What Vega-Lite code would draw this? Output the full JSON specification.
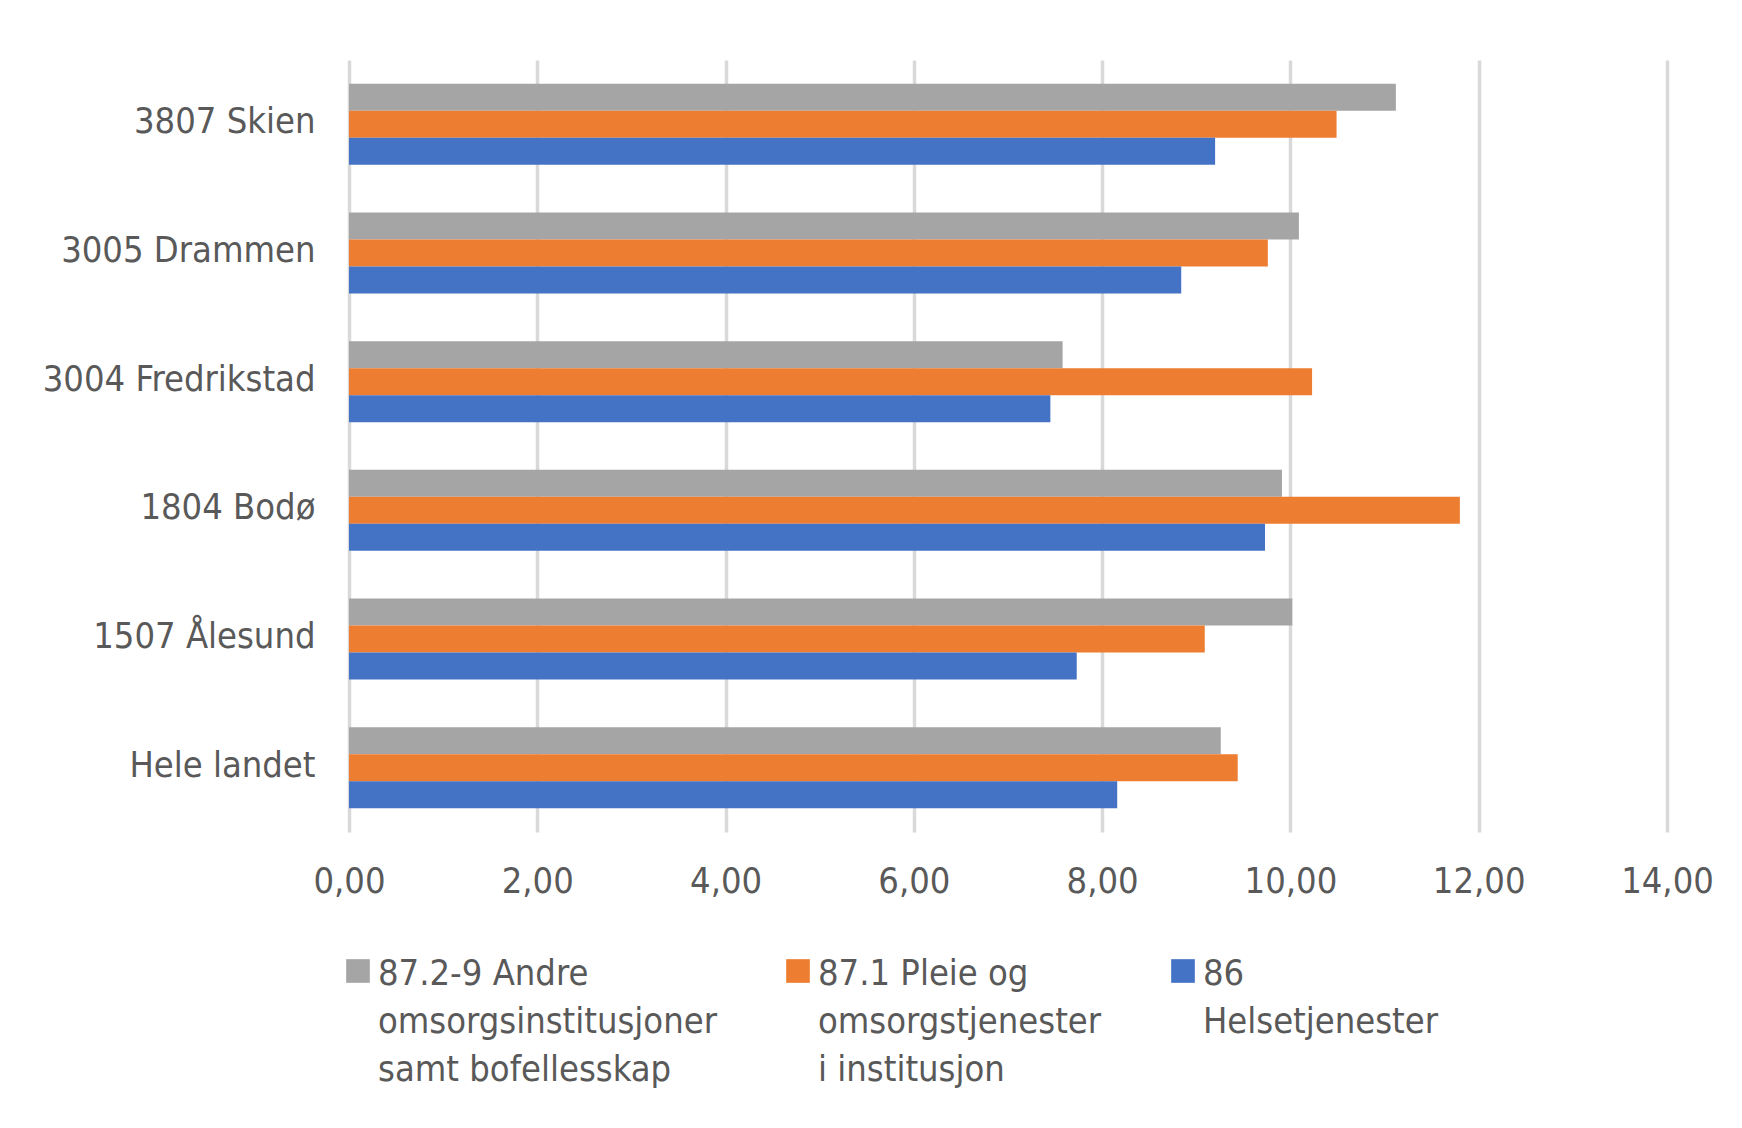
{
  "$schema": "https://vega.github.io/schema/vega-lite/v6.json",
  "autosize": {"type": "none"},
  "width": 1318,
  "height": 772,
  "padding": {"left": 349, "top": 60, "right": 75, "bottom": 296},
  "background": "white",
  "config": {
    "view": {"stroke": null},
    "font": "DejaVu Sans Condensed",
    "axis": {"labelFont": "DejaVu Sans Condensed", "labelColor": "#595959", "labelFontSize": 36}
  },
  "data": {
    "values": [
      {"kommune": "3807 Skien", "serie": "87.2-9 Andre omsorgsinstitusjoner samt bofellesskap", "verdi": 11.12},
      {"kommune": "3807 Skien", "serie": "87.1 Pleie og omsorgstjenester i institusjon", "verdi": 10.49},
      {"kommune": "3807 Skien", "serie": "86 Helsetjenester", "verdi": 9.20},
      {"kommune": "3005 Drammen", "serie": "87.2-9 Andre omsorgsinstitusjoner samt bofellesskap", "verdi": 10.09},
      {"kommune": "3005 Drammen", "serie": "87.1 Pleie og omsorgstjenester i institusjon", "verdi": 9.76},
      {"kommune": "3005 Drammen", "serie": "86 Helsetjenester", "verdi": 8.84},
      {"kommune": "3004 Fredrikstad", "serie": "87.2-9 Andre omsorgsinstitusjoner samt bofellesskap", "verdi": 7.58},
      {"kommune": "3004 Fredrikstad", "serie": "87.1 Pleie og omsorgstjenester i institusjon", "verdi": 10.23},
      {"kommune": "3004 Fredrikstad", "serie": "86 Helsetjenester", "verdi": 7.45},
      {"kommune": "1804 Bodø", "serie": "87.2-9 Andre omsorgsinstitusjoner samt bofellesskap", "verdi": 9.91},
      {"kommune": "1804 Bodø", "serie": "87.1 Pleie og omsorgstjenester i institusjon", "verdi": 11.80},
      {"kommune": "1804 Bodø", "serie": "86 Helsetjenester", "verdi": 9.73},
      {"kommune": "1507 Ålesund", "serie": "87.2-9 Andre omsorgsinstitusjoner samt bofellesskap", "verdi": 10.02},
      {"kommune": "1507 Ålesund", "serie": "87.1 Pleie og omsorgstjenester i institusjon", "verdi": 9.09},
      {"kommune": "1507 Ålesund", "serie": "86 Helsetjenester", "verdi": 7.73},
      {"kommune": "Hele landet", "serie": "87.2-9 Andre omsorgsinstitusjoner samt bofellesskap", "verdi": 9.26},
      {"kommune": "Hele landet", "serie": "87.1 Pleie og omsorgstjenester i institusjon", "verdi": 9.44},
      {"kommune": "Hele landet", "serie": "86 Helsetjenester", "verdi": 8.16}
    ]
  },
  "mark": {"type": "bar"},
  "encoding": {
    "y": {
      "field": "kommune",
      "type": "nominal",
      "sort": ["3807 Skien", "3005 Drammen", "3004 Fredrikstad", "1804 Bodø", "1507 Ålesund", "Hele landet"],
      "scale": {"paddingInner": 0.37, "paddingOuter": 0.185},
      "axis": {"title": null, "domain": false, "ticks": false, "tickSize": 0, "labelPadding": 34, "labelLimit": 400, "labelOffset": -2, "grid": false}
    },
    "yOffset": {
      "field": "serie",
      "type": "nominal",
      "scale": {"domain": ["87.2-9 Andre omsorgsinstitusjoner samt bofellesskap", "87.1 Pleie og omsorgstjenester i institusjon", "86 Helsetjenester"], "paddingInner": 0, "paddingOuter": 0}
    },
    "x": {
      "field": "verdi",
      "type": "quantitative",
      "scale": {"domain": [0, 14], "nice": false},
      "axis": {
        "title": null,
        "domain": false,
        "ticks": false,
        "tickSize": 0,
        "values": [0, 2, 4, 6, 8, 10, 12, 14],
        "labelExpr": "replace(format(datum.value, '.2f'), '.', ',')",
        "labelPadding": 32,
        "labelFlush": false,
        "grid": true,
        "gridColor": "#D9D9D9",
        "gridWidth": 3.5
      }
    },
    "color": {
      "field": "serie",
      "type": "nominal",
      "scale": {
        "domain": ["87.2-9 Andre omsorgsinstitusjoner samt bofellesskap", "87.1 Pleie og omsorgstjenester i institusjon", "86 Helsetjenester"],
        "range": ["#A5A5A5", "#ED7D31", "#4472C4"]
      },
      "legend": {
        "title": null,
        "orient": "none",
        "legendX": -9,
        "legendY": 893,
        "direction": "horizontal",
        "columns": 3,
        "columnPadding": 63,
        "symbolType": "square",
        "symbolSize": 560,
        "symbolStrokeWidth": 0,
        "labelFont": "DejaVu Sans Condensed",
        "labelFontSize": 36,
        "labelColor": "#595959",
        "labelOffset": 2,
        "labelLimit": 1000,
        "labelBaseline": "top",
        "labelExpr": "datum.label == '86 Helsetjenester' ? ['86', 'Helsetjenester', ' '] : datum.label == '87.1 Pleie og omsorgstjenester i institusjon' ? ['87.1 Pleie og', 'omsorgstjenester', 'i institusjon'] : ['87.2-9 Andre', 'omsorgsinstitusjoner', 'samt bofellesskap']",
        "encode": {"labels": {"update": {"lineHeight": {"value": 48}, "dy": {"value": -14}}}}
      }
    }
  }
}
